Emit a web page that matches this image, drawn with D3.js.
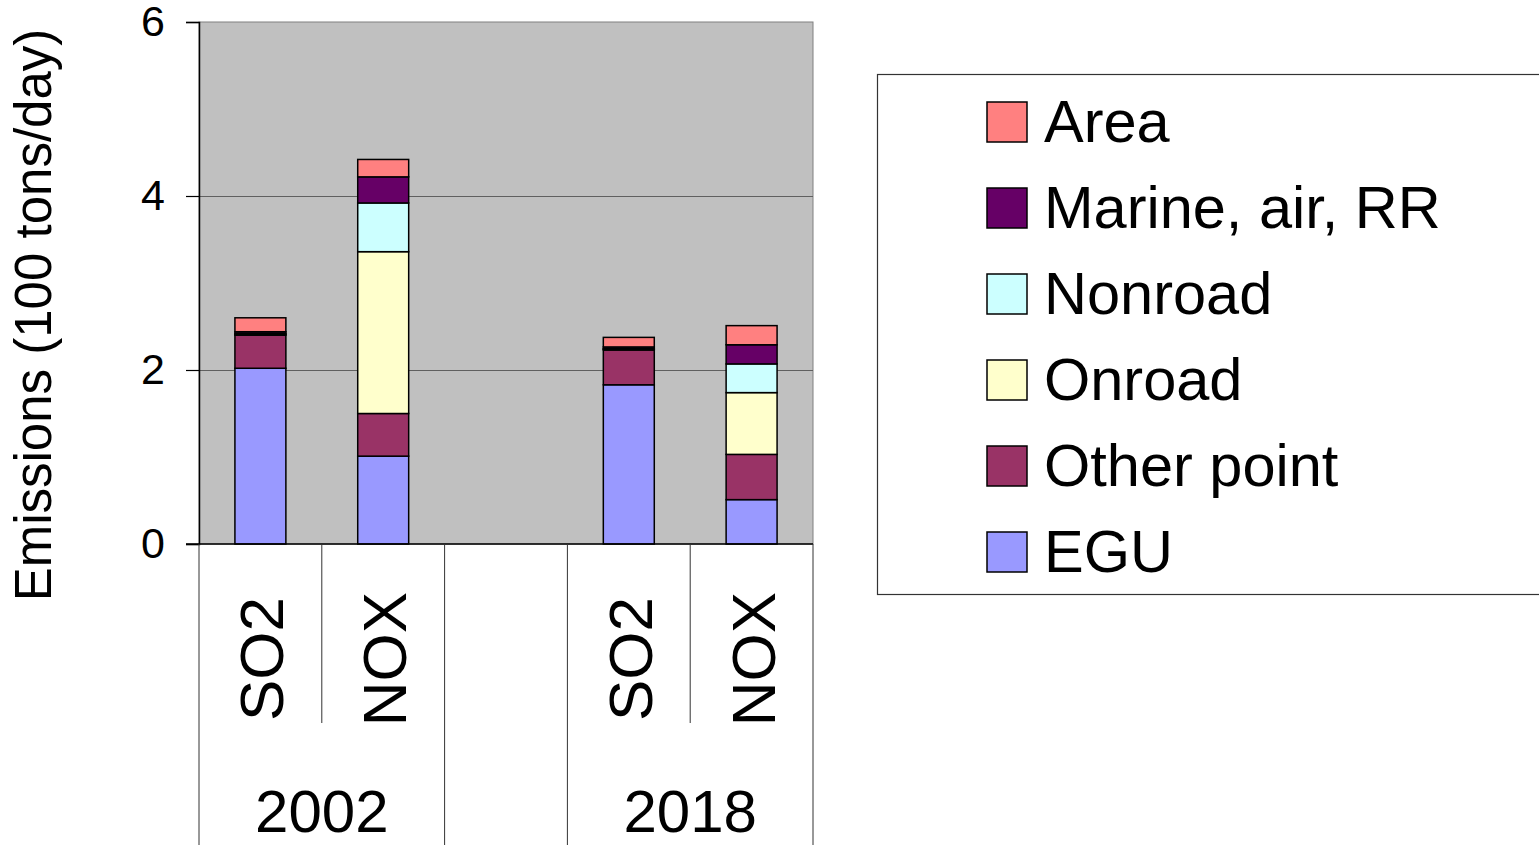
<!DOCTYPE html>
<html>
<head>
<meta charset="utf-8">
<script src="https://cdn.jsdelivr.net/npm/d3@7"></script>
<style>
  body { margin: 0; background: #fff; }
  svg { display: block; font-family: "Liberation Sans", Arial, sans-serif; }
</style>
</head>
<body>
<div id="chart"></div>
<script>
var width = 1539;
var height = 845;

// slots along the category axis (blank slot separates the years)
var slots = ["2002 SO2", "2002 NOX", "gap", "2018 SO2", "2018 NOX"];
var slotLabels = ["SO2", "NOX", "", "SO2", "NOX"];
var groups = [
  {label: "2002", slots: ["2002 SO2", "2002 NOX"]},
  {label: "", slots: ["gap"]},
  {label: "2018", slots: ["2018 SO2", "2018 NOX"]}
];

var sectors = ["EGU", "Other point", "Onroad", "Nonroad", "Marine, air, RR", "Area"];
var colors  = ["#9999ff", "#993366", "#ffffcc", "#ccffff", "#660066", "#ff8080"];

// values in 100 tons/day, one per slot
var egu        = [2.02, 1.01, 0, 1.83, 0.51];
var otherPoint = [0.38, 0.49, 0, 0.40, 0.52];
var onroad     = [0.01, 1.86, 0, 0.01, 0.71];
var nonroad    = [0.01, 0.56, 0, 0.005, 0.33];
var marine     = [0.02, 0.30, 0, 0.02, 0.22];
var area       = [0.16, 0.20, 0, 0.11, 0.22];

var yTicks = [0, 2, 4, 6];

var table = slots.map(function(s, i) {
  return {
    slot: s,
    "EGU": egu[i],
    "Other point": otherPoint[i],
    "Onroad": onroad[i],
    "Nonroad": nonroad[i],
    "Marine, air, RR": marine[i],
    "Area": area[i]
  };
}).filter(function(d) { return d.slot !== "gap"; });

var plot = {left: 199, right: 813, top: 22, bottom: 544};

var x = d3.scaleBand()
  .domain(slots)
  .range([plot.left, plot.right])
  .paddingInner(0.585)
  .paddingOuter(0.2925);

var y = d3.scaleLinear().domain([0, 6]).range([plot.bottom, plot.top]);
var color = d3.scaleOrdinal().domain(sectors).range(colors);

var svg = d3.select("#chart").append("svg")
  .attr("width", width)
  .attr("height", height);

// plot background
svg.append("rect")
  .attr("x", plot.left).attr("y", plot.top)
  .attr("width", plot.right - plot.left).attr("height", plot.bottom - plot.top)
  .attr("fill", "#c0c0c0")
  .attr("stroke", "#808080")
  .attr("stroke-width", 1);

// gridlines
svg.append("g").selectAll("line")
  .data(yTicks.filter(function(t) { return t > 0 && t < 6; }))
  .enter().append("line")
  .attr("x1", plot.left).attr("x2", plot.right)
  .attr("y1", function(d) { return y(d) + 0.5; })
  .attr("y2", function(d) { return y(d) + 0.5; })
  .attr("stroke", "#606060")
  .attr("stroke-width", 1);

// stacked bars
var series = d3.stack().keys(sectors)(table);

svg.append("g").selectAll("g")
  .data(series)
  .enter().append("g")
  .attr("fill", function(d) { return color(d.key); })
  .selectAll("rect")
  .data(function(d) { return d; })
  .enter().append("rect")
  .attr("x", function(d) { return x(d.data.slot); })
  .attr("width", x.bandwidth())
  .attr("y", function(d) { return y(d[1]); })
  .attr("height", function(d) { return y(d[0]) - y(d[1]); })
  .attr("stroke", "#000")
  .attr("stroke-width", 1.5);

// y axis
var yAxis = svg.append("g")
  .attr("transform", "translate(" + plot.left + ",0)")
  .call(d3.axisLeft(y).tickValues(yTicks).tickSize(13).tickPadding(21).tickFormat(d3.format("d")));
yAxis.select(".domain").attr("stroke", "#000").attr("stroke-width", 1.5);
yAxis.selectAll(".tick line").attr("stroke", "#000").attr("stroke-width", 1.2);
yAxis.selectAll(".tick text")
  .attr("font-size", 43)
  .attr("font-family", "'Liberation Sans', Arial, sans-serif")
  .attr("fill", "#000");

// x axis baseline
svg.append("line")
  .attr("x1", plot.left - 13).attr("x2", plot.right)
  .attr("y1", plot.bottom).attr("y2", plot.bottom)
  .attr("stroke", "#000").attr("stroke-width", 1.5);

// category separators: inner ones (between pollutants) short, group edges full height
var step = x.step();
var slotEdge = function(s) { return x(s) - step * x.paddingOuter(); };
var innerSep = [];
groups.forEach(function(g) {
  g.slots.slice(1).forEach(function(s) { innerSep.push(slotEdge(s)); });
});
var groupSep = groups.map(function(g) { return slotEdge(g.slots[0]); }).concat([plot.right]);

svg.append("g").selectAll("line")
  .data(innerSep)
  .enter().append("line")
  .attr("x1", function(d) { return d; }).attr("x2", function(d) { return d; })
  .attr("y1", plot.bottom).attr("y2", 723)
  .attr("stroke", "#333").attr("stroke-width", 1);

svg.append("g").selectAll("line")
  .data(groupSep)
  .enter().append("line")
  .attr("x1", function(d) { return d; }).attr("x2", function(d) { return d; })
  .attr("y1", plot.bottom).attr("y2", height)
  .attr("stroke", "#333").attr("stroke-width", 1);

// slot labels (rotated)
svg.append("g").selectAll("text")
  .data(slots)
  .enter().append("text")
  .attr("transform", function(d) {
    return "translate(" + (x(d) + x.bandwidth() / 2 + 23) + ",659) rotate(-90)";
  })
  .attr("text-anchor", "middle")
  .attr("font-size", 62)
  .attr("fill", "#000")
  .text(function(d, i) { return slotLabels[i]; });

// year labels
svg.append("g").selectAll("text")
  .data(groups)
  .enter().append("text")
  .attr("x", function(g) {
    var a = slotEdge(g.slots[0]);
    var b = slotEdge(g.slots[g.slots.length - 1]) + step;
    return (a + b) / 2;
  })
  .attr("y", 832)
  .attr("text-anchor", "middle")
  .attr("font-size", 60)
  .attr("fill", "#000")
  .text(function(g) { return g.label; });

// y axis title
svg.append("text")
  .attr("transform", "translate(51,315) rotate(-90)")
  .attr("text-anchor", "middle")
  .attr("font-size", 51)
  .attr("fill", "#000")
  .text("Emissions (100 tons/day)");

// legend
var legend = svg.append("g");
legend.append("rect")
  .attr("x", 877.5).attr("y", 74.5)
  .attr("width", 720).attr("height", 520)
  .attr("fill", "#fff")
  .attr("stroke", "#333")
  .attr("stroke-width", 1.2);

var legendItems = sectors.slice().reverse();
var rows = legend.selectAll("g.item")
  .data(legendItems)
  .enter().append("g")
  .attr("class", "item")
  .attr("transform", function(d, i) { return "translate(987," + (122 + i * 86) + ")"; });

rows.append("rect")
  .attr("x", 0).attr("y", -20)
  .attr("width", 40).attr("height", 40)
  .attr("fill", function(d) { return color(d); })
  .attr("stroke", "#000")
  .attr("stroke-width", 1.5);

rows.append("text")
  .attr("x", 57).attr("y", 20)
  .attr("font-size", 59.5)
  .attr("fill", "#000")
  .text(function(d) { return d; });
</script>
</body>
</html>
